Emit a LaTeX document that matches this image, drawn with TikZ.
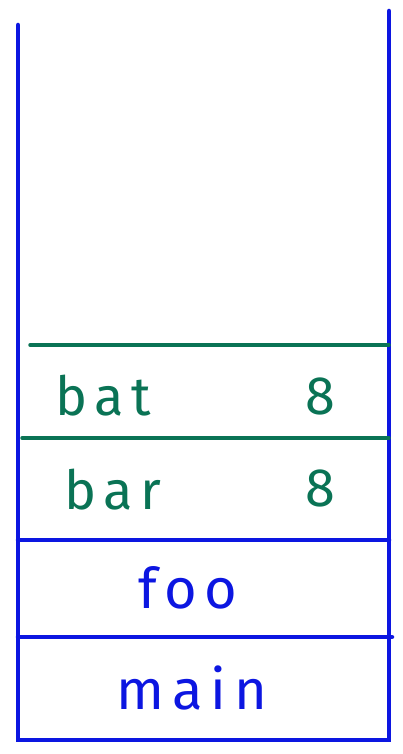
\documentclass[tikz,border=0pt]{standalone}
\usepackage{fontspec}
\setmainfont{Fira Sans}
\newfontfamily\handfont[LetterSpace=14]{Fira Sans}
\usetikzlibrary{positioning}
\definecolor{sblue}{RGB}{12,22,225}
\definecolor{sgreen}{RGB}{10,115,85}

\begin{document}
\begin{tikzpicture}[x=1pt,y=-1pt,
  wall/.style={draw=sblue,line width=4.5pt,line cap=round},
  sep/.style={draw=sgreen,line width=3.5pt,line cap=round},
  frame/.style={font=\handfont\fontsize{56}{56}\selectfont,text=sblue,inner sep=0pt},
  slot/.style={font=\handfont\fontsize{54}{54}\selectfont,text=sgreen,inner sep=0pt},
]
\useasboundingbox (0,0) rectangle (402,754);
% stack walls and frames
\draw[wall] (18,25) -- (18,740) -- (389,740) -- (389,11);
\draw[wall] (18,540) -- (389,540);
\draw[wall] (18,637) -- (392,637);
% slots of the top frame
\draw[sep] (30,345) -- (389,345);
\draw[sep] (22,438) -- (389,438);
\node[slot] (bat) at (103,396) {bat};
\node[slot] (batsz) at (320,396) {8};
\node[slot] (bar) at (113,490) {bar};
\node[slot] (barsz) at (320,488) {8};
\node[frame] (foo) at (188,588) {foo};
\node[frame] (main) at (192,688) {main};
\end{tikzpicture}
\end{document}
